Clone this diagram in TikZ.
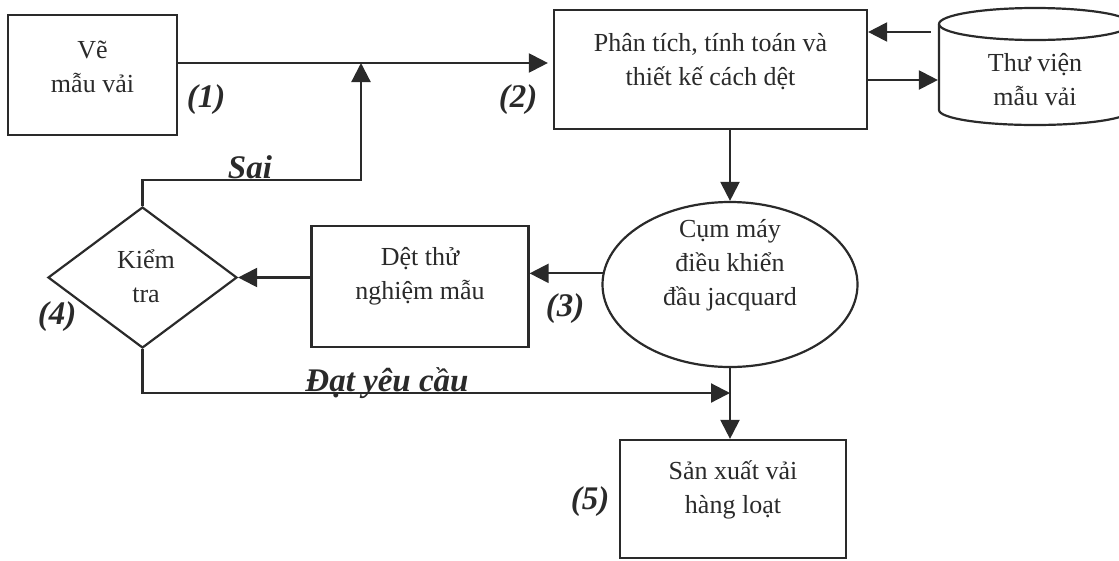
\documentclass[tikz,border=0pt]{standalone}
\usepackage{fontspec}
\setmainfont{Liberation Serif}
\usetikzlibrary{arrows.meta,shapes.geometric}
\definecolor{ink}{HTML}{2A2A2A}
\begin{document}
\begin{tikzpicture}[x=1pt,y=-1pt,color=ink,line width=2.2pt,
  arr/.style={-{Triangle[length=19pt,width=19pt]}},
  stepbox/.style={draw,rectangle,inner sep=0pt},
  txt/.style={font=\fontsize{26}{34}\selectfont,align=center,inner sep=0pt},
  lbl/.style={font=\fontsize{33}{36}\selectfont\bfseries\itshape,inner sep=0pt}]
\useasboundingbox (0,0) rectangle (1119,560);
\clip (0,0) rectangle (1119,560);

% process boxes
\node[stepbox,minimum width=169pt,minimum height=120pt] (b1) at (92.5,75) {};
\node[txt] (b1t) at ([yshift=8pt]b1.center) {Vẽ\\mẫu vải};

\node[stepbox,minimum width=313pt,minimum height=119pt] (b2) at (710.5,69.5) {};
\node[txt] (b2t) at ([yshift=8pt]b2.center) {Phân tích, tính toán và\\thiết kế cách dệt};

\node[stepbox,minimum width=217pt,minimum height=121pt] (b3) at (420,286.5) {};
\node[txt] (b3t) at ([yshift=10pt]b3.center) {Dệt thử\\nghiệm mẫu};

\node[stepbox,minimum width=226pt,minimum height=118pt] (b5) at (733,499) {};
\node[txt] (b5t) at ([yshift=9pt]b5.center) {Sản xuất vải\\hàng loạt};

% decision
\node[diamond,draw,aspect=1.34,minimum width=189pt,minimum height=141pt,inner sep=0pt] (dia) at (142.5,277.5) {};
\node[txt] (diat) at (146,276) {Kiểm\\tra};

% jacquard controller
\node[ellipse,draw,minimum width=255pt,minimum height=165pt,inner sep=0pt] (ell) at (730,284.5) {};
\node[txt] (ellt) at ([yshift=19pt]ell.center) {Cụm máy\\điều khiển\\đầu jacquard};

% pattern library (cylinder)
\node[minimum width=192pt,minimum height=115pt,inner sep=0pt] (lib) at (1035,67.5) {};
\draw (1035,24) ellipse [x radius=96pt,y radius=16pt];
\draw (939,24) -- (939,110)
  .. controls (939,118.3) and (982,125) .. (1035,125)
  .. controls (1088,125) and (1131,118.3) .. (1131,110) -- (1131,24);
\node[txt] (libt) at (1035,80) {Thư viện\\mẫu vải};

% connectors
\coordinate (j1) at (361,63);
\coordinate (s) at (361,180);
\coordinate (lu) at (0,32);
\coordinate (ld) at (0,80);
\coordinate (ok) at (0,393);

\draw[arr,shorten >=5pt] (j1 -| b1.east) -- (j1 -| b2.west);
\draw[arr] (dia.north) |- (s) -- (j1);
\draw[arr,shorten <=7pt] (lu -| lib.west) -- (lu -| b2.east);
\draw[arr] (ld -| b2.east) -- (ld -| lib.west);
\draw[arr] (ell.north |- b2.south) -- (ell.north);
\draw[arr] (ell.175) -- (ell.175 -| b3.east);
\draw[arr] (b3.west |- dia.east) -- (dia.east);
\draw[arr] (dia.south) |- (ok -| ell.south);
\draw[arr] (ell.south) -- (ell.south |- b5.north);

% labels
\node[lbl] (l1) at (206,100) {(1)};
\node[lbl] (l2) at (518,100) {(2)};
\node[lbl] (l3) at (565,309) {(3)};
\node[lbl] (l4) at (57,317) {(4)};
\node[lbl] (l5) at (590,502) {(5)};
\node[lbl,anchor=base] (sai) at (250,178) {Sai};
\node[lbl,anchor=base] (dat) at (387,391) {Đạt yêu cầu};
\end{tikzpicture}
\end{document}
